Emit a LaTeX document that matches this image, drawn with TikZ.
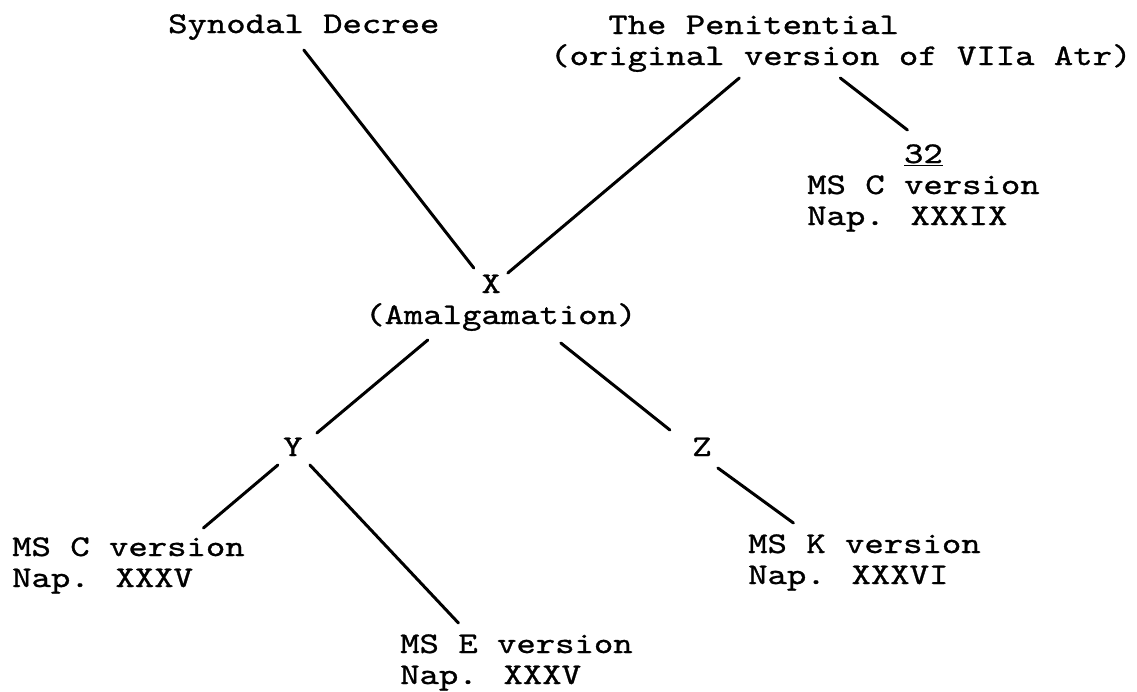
\documentclass[tikz,border=0pt]{standalone}
\usepackage{fontspec}
\newfontfamily\typewfont{lmmono10-regular.otf}[FakeStretch=1.23,FakeBold=1.0]

\begin{document}
\begin{tikzpicture}[x=1pt,y=-1pt,
                every node/.style={inner sep=0pt, anchor=base west, align=left,
                    font=\typewfont\fontsize{30}{31}\selectfont},
                link_style/.style={draw=black, line width=3pt, line cap=round}]
                \fill[white] (0,0) rectangle (1137,691);
                \useasboundingbox (0,0) rectangle (1137,691);
                \node (sd) at (168,33) {Synodal Decree};
                \node (pen) at (550,65) {\hphantom{(or}The Penitential\\(original version of VIIa Atr)};
                \node (c32) at (807,225) {\hphantom{MS C }\underline{32}\\MS C version\\Nap. XXXIX};
                \node (amal) at (365,324) {\hphantom{(Amalg}X\\(Amalgamation)};
                \node (yy) at (283,456) {Y};
                \node (zz) at (692,456) {Z};
                \node (msc) at (12,587) {MS C version\\Nap. XXXV};
                \node (mse) at (400,684) {MS E version\\Nap. XXXV};
                \node (msk) at (748,584) {MS K version\\Nap. XXXVI};
                \draw[link_style] ([yshift=-17pt]sd.base) -- ([xshift=-27pt,yshift=56pt]amal.base);
                \draw[link_style] ([xshift=-101.5pt,yshift=-13pt]pen.base) -- ([xshift=7pt,yshift=51pt]amal.base);
                \draw[link_style] ([xshift=-0.5pt,yshift=-13pt]pen.base) -- ([xshift=-16pt,yshift=95pt]c32.base);
                \draw[link_style] ([xshift=-73pt,yshift=-16pt]amal.base) -- ([xshift=24pt,yshift=23pt]yy.base);
                \draw[link_style] ([xshift=60pt,yshift=-19pt]amal.base) -- ([xshift=-32pt,yshift=26pt]zz.base);
                \draw[link_style] ([xshift=-15pt,yshift=-9pt]yy.base) -- ([xshift=75pt,yshift=59pt]msc.base);
                \draw[link_style] ([xshift=17pt,yshift=-9pt]yy.base) -- ([xshift=-58pt,yshift=61pt]mse.base);
                \draw[link_style] ([xshift=16pt,yshift=-12pt]zz.base) -- ([xshift=-71pt,yshift=61pt]msk.base);
            \end{tikzpicture}
\end{document}
